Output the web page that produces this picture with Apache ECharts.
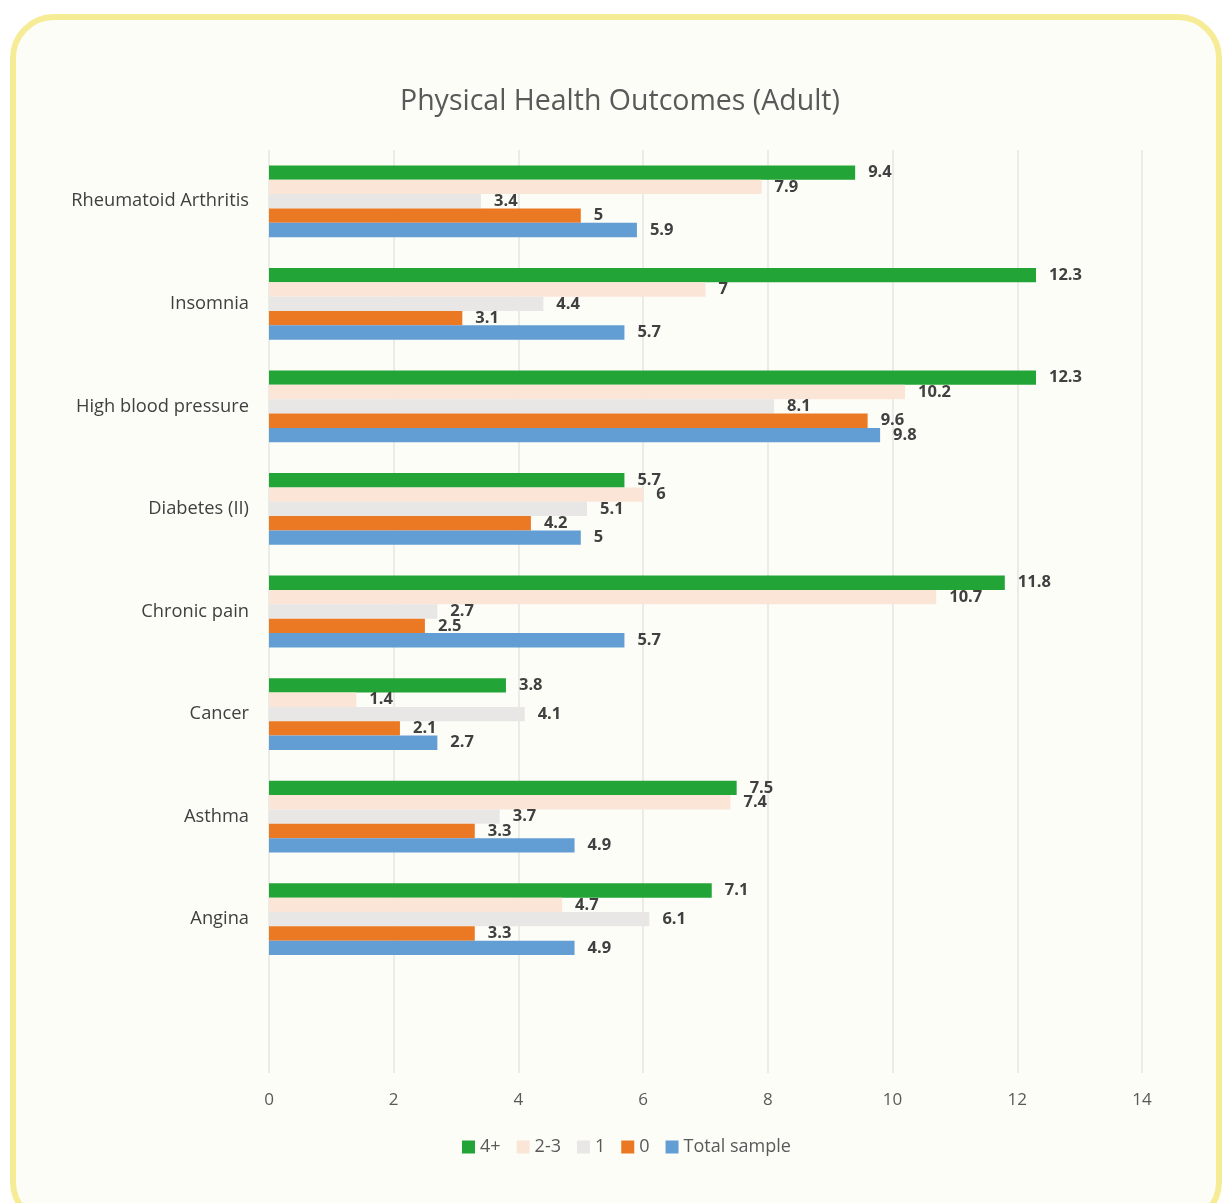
<!DOCTYPE html>
<html>
<head>
<meta charset="utf-8">
<script src="https://cdn.jsdelivr.net/npm/echarts@6/dist/echarts.min.js"></script>
<style>
  html, body { margin: 0; padding: 0; background: #ffffff; }
  #box {
    position: absolute; left: 10px; top: 14px; width: 1200px; height: 1200px;
    border: 6px solid #f6ec96; border-radius: 44px; background: #fdfdf8;
  }
  #chart { position: absolute; left: 0; top: 0; width: 1222px; height: 1203px; }
</style>
</head>
<body>
<div id="box"></div>
<div id="chart"></div>
<script>
// 类别（从上到下），最后一个是空的占位行
const categories = ["Rheumatoid Arthritis", "Insomnia", "High blood pressure", "Diabetes (II)",
  "Chronic pain", "Cancer", "Asthma", "Angina", ""];
// 各组数据
const g4plus = [9.4, 12.3, 12.3, 5.7, 11.8, 3.8, 7.5, 7.1, "-"];
const g2to3 = [7.9, 7, 10.2, 6, 10.7, 1.4, 7.4, 4.7, "-"];
const g1 = [3.4, 4.4, 8.1, 5.1, 2.7, 4.1, 3.7, 6.1, "-"];
const g0 = [5, 3.1, 9.6, 4.2, 2.5, 2.1, 3.3, 3.3, "-"];
const total = [5.9, 5.7, 9.8, 5, 5.7, 2.7, 4.9, 4.9, "-"];
const xTicks = [0, 2, 4, 6, 8, 10, 12, 14];

const font = "'Open Sans', 'Liberation Sans', sans-serif";

function bar(name, data, color) {
  return {
    name: name,
    type: "bar",
    data: data,
    barGap: "0%",
    barCategoryGap: "30%",
    itemStyle: { color: color },
    label: {
      show: true,
      position: "right",
      distance: 13,
      fontFamily: font,
      fontSize: 16.5,
      fontWeight: "bold",
      color: "#404040"
    }
  };
}

const myChart = echarts.init(document.getElementById("chart"));
myChart.setOption({
  title: {
    text: "Physical Health Outcomes (Adult)",
    left: 395,
    top: 82,
    textStyle: { fontFamily: font, fontSize: 28.5, fontWeight: "normal", color: "#595959" }
  },
  legend: {
    bottom: 42,
    left: 457,
    itemWidth: 13,
    itemHeight: 13,
    itemGap: 16,
    icon: "rect",
    textStyle: { fontFamily: font, fontSize: 18, color: "#595959" },
    data: ["4+", "2-3", "1", "0", "Total sample"]
  },
  grid: { left: 269, right: 80, top: 150, bottom: 130 },
  xAxis: {
    type: "value",
    min: 0,
    max: xTicks[xTicks.length - 1],
    interval: 2,
    axisLine: { show: false },
    axisTick: { show: false },
    splitLine: { lineStyle: { color: "#e4e4e2", width: 1.5 } },
    axisLabel: { margin: 19, fontFamily: font, fontSize: 17, color: "#595959" }
  },
  yAxis: {
    type: "category",
    inverse: true,
    data: categories,
    axisLine: { show: false },
    axisTick: { show: false },
    axisLabel: { margin: 20, fontFamily: font, fontSize: 18.3, color: "#404040" }
  },
  series: [
    bar("4+", g4plus, "#22a536"),
    bar("2-3", g2to3, "#fbe5d6"),
    bar("1", g1, "#e8e7e6"),
    bar("0", g0, "#eb7822"),
    bar("Total sample", total, "#629dd3")
  ]
});
</script>
</body>
</html>
